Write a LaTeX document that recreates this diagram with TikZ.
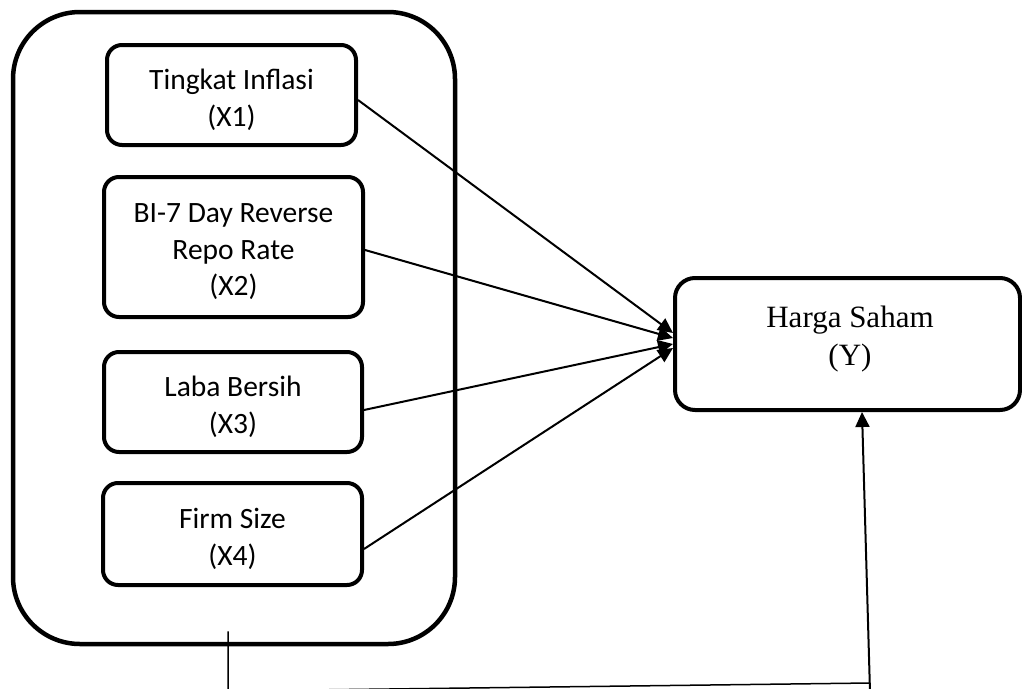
\documentclass[tikz,border=0pt]{standalone}
\usepackage{fontspec}
\setmainfont{Liberation Serif}
\newfontfamily\calib{Carlito}
\usetikzlibrary{arrows.meta}

\begin{document}
\begin{tikzpicture}[x=1pt,y=-1pt,
  varbox/.style={draw, line width=4pt, rounded corners=15pt, inner sep=0pt},
  vartext/.style={inner sep=0pt, align=center,
    font=\calib\fontsize{29.5}{36.5}\selectfont},
  link/.style={line width=2pt, -{Triangle[length=15pt,width=14pt]}},
  ]
\useasboundingbox (0,0) rectangle (1022,688);
\clip (0,0) rectangle (1022,688);

% group of independent variables
\node[draw, line width=4.5pt, rounded corners=67pt, minimum width=442pt,
  minimum height=632pt, inner sep=0pt] (group) at (234,328) {};

\node[varbox, minimum width=249pt, minimum height=100pt] (x1) at (231.5,95) {};
\node[vartext] (x1text) at ([yshift=-5pt]x1.center) {Tingkat Inflasi\\(X1)};
\node[varbox, minimum width=259pt, minimum height=140pt] (x2) at (233.5,247) {};
\node[vartext] (x2text) at ([yshift=-5pt]x2.center) {BI-7 Day Reverse\\Repo Rate\\(X2)};
\node[varbox, minimum width=258pt, minimum height=100pt] (x3) at (233,402) {};
\node[vartext] (x3text) at ([yshift=-5pt]x3.center) {Laba Bersih\\(X3)};
\node[varbox, minimum width=259pt, minimum height=102pt] (x4) at (232.5,534) {};
\node[vartext] (x4text) at ([yshift=-5pt]x4.center) {Firm Size\\(X4)};

% dependent variable
\node[draw, line width=4pt, rounded corners=20pt, minimum width=345pt,
  minimum height=132pt, inner sep=0pt] (y) at (847.5,344) {};
\node[anchor=north, inner sep=0pt, align=center,
  font=\fontsize{31}{38}\selectfont] (ylabel) at (850,306) {Harga Saham\\(Y)};

% partial effects
\draw[link] ([yshift=-5pt]x1.east) -- ([yshift=11pt]y.west);
\draw[link] ([yshift=-3pt]x2.east) -- ([yshift=6pt]y.west);
\draw[link] ([yshift=-8pt]x3.east) -- ([yshift=0pt]y.west);
\draw[link] ([yshift=-15pt]x4.east) -- ([yshift=-4pt]y.west);

% simultaneous effect
\coordinate (drop) at (228,691);
\coordinate (bend) at (870,683);
\coordinate (rise) at (870,692);
\draw[line width=1.5pt] ([xshift=-6pt,yshift=15pt]group.south) -- (drop) -- (bend);
\draw[link] (rise) -- ([xshift=14.5pt]y.south);
\end{tikzpicture}
\end{document}
